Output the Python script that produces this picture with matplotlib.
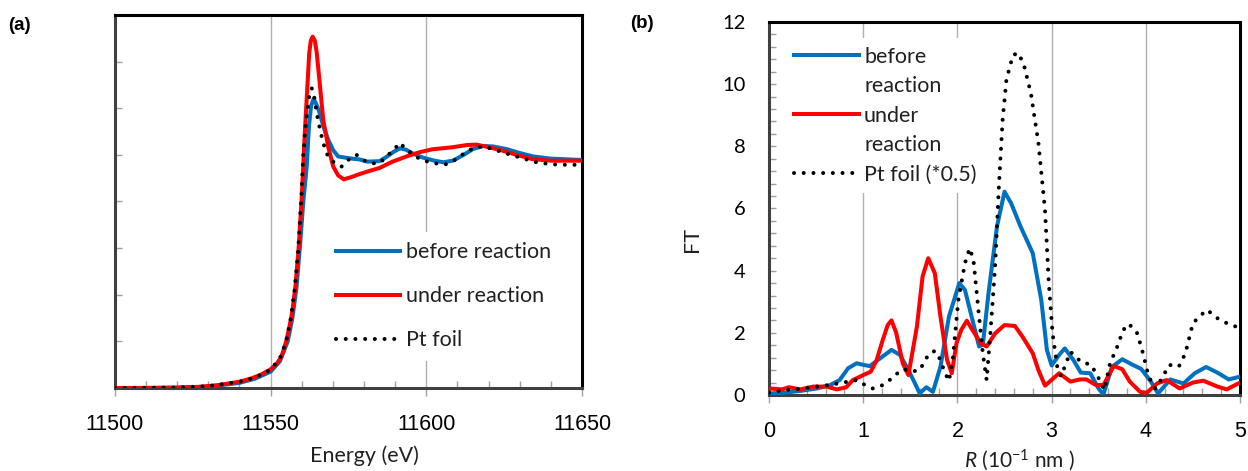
import matplotlib
matplotlib.use('Agg')
import matplotlib.pyplot as plt
from matplotlib.lines import Line2D
from matplotlib.ticker import MultipleLocator

plt.rcParams['font.family'] = ['Lato', 'DejaVu Sans']
plt.rcParams['mathtext.fontset'] = 'custom'
plt.rcParams['mathtext.rm'] = 'Lato'
plt.rcParams['mathtext.it'] = 'Lato:italic'

# ---- (a) XANES: energy (eV) vs normalised absorption ----
e_before = [11500, 11520, 11530, 11540, 11545, 11550, 11553, 11555.5, 11557, 11558.3,
            11559.5, 11560.5, 11561.6, 11562.3, 11563, 11563.8, 11564.6, 11565.5, 11567,
            11568.5, 11570.1, 11571.7, 11575.5, 11578.7, 11581, 11585, 11587.3, 11589.4,
            11591.5, 11593.5, 11595.8, 11599, 11602.3, 11605.5, 11608.7, 11612, 11615,
            11618.3, 11621.5, 11626, 11630, 11634.4, 11640, 11650]
mu_before = [0.0, 0.001, 0.006, 0.022, 0.04, 0.07, 0.115, 0.2, 0.3, 0.43,
             0.62, 0.8, 0.95, 1.12, 1.21, 1.24, 1.22, 1.19, 1.12,
             1.065, 1.02, 0.993, 0.985, 0.98, 0.971, 0.973, 0.992, 1.012,
             1.028, 1.022, 1.005, 0.988, 0.976, 0.968, 0.976, 1.0, 1.025,
             1.038, 1.036, 1.024, 1.008, 0.993, 0.984, 0.978]

e_under = [11500, 11510, 11520, 11527, 11533, 11540, 11544, 11547, 11550, 11552,
           11553.5, 11555, 11556, 11557, 11558, 11559, 11560, 11561, 11561.8, 11562.4,
           11562.9, 11563.5, 11564.2, 11564.8, 11565.9, 11566.9, 11568.5, 11570.1, 11571.7,
           11573.5, 11576, 11578, 11581, 11585, 11589, 11594, 11598, 11602, 11608,
           11613, 11616, 11619, 11624, 11629, 11634, 11640, 11650]
mu_under = [0.0, 0.0, 0.002, 0.005, 0.012, 0.027, 0.042, 0.058, 0.08, 0.105,
            0.135, 0.2, 0.26, 0.33, 0.44, 0.6, 0.82, 1.1, 1.29, 1.436,
            1.49, 1.507, 1.49, 1.44, 1.29, 1.15, 1.035, 0.95, 0.912,
            0.895, 0.905, 0.915, 0.928, 0.944, 0.97, 0.995, 1.012, 1.024, 1.032,
            1.042, 1.044, 1.036, 1.02, 1.0, 0.982, 0.975, 0.975]

e_foil = [11500, 11520, 11530, 11540, 11545, 11550, 11553, 11555, 11556.5, 11557.7,
          11558.8, 11559.8, 11560.5, 11561.4, 11562.6, 11563.2, 11564, 11564.8, 11565.9,
          11566.9, 11568.5, 11570.7, 11572.8, 11575.5, 11577.6, 11579.8, 11581.9, 11585,
          11587.8, 11590, 11591.5, 11593.2, 11595.8, 11598.5, 11602.3, 11606, 11609.5,
          11612.5, 11615.5, 11618.5, 11622, 11626, 11631, 11636, 11642, 11650]
mu_foil = [0.0, 0.002, 0.008, 0.027, 0.045, 0.078, 0.128, 0.2, 0.3, 0.42,
           0.58, 0.8, 1.0, 1.15, 1.27, 1.286, 1.25, 1.178, 1.107,
           1.05, 0.99, 0.964, 0.95, 0.985, 1.0, 0.978, 0.964, 0.964,
           1.0, 1.028, 1.052, 1.028, 1.0, 0.978, 0.965, 0.958, 0.98,
           1.01, 1.032, 1.036, 1.022, 1.005, 0.985, 0.966, 0.958, 0.957]

# ---- (b) EXAFS Fourier transform: R (0.1 nm) vs FT ----
r_before = [0.0, 0.15, 0.33, 0.51, 0.65, 0.75, 0.84, 0.93, 1.0, 1.07, 1.18, 1.3, 1.39,
            1.48, 1.55, 1.6, 1.67, 1.74, 1.82, 1.91, 2.02, 2.08, 2.16, 2.23, 2.27, 2.33,
            2.42, 2.5, 2.57, 2.67, 2.8, 2.89, 2.95, 3.0, 3.08, 3.14, 3.23, 3.31, 3.41,
            3.5, 3.55, 3.64, 3.75, 3.86, 3.95, 4.05, 4.13, 4.26, 4.4, 4.52, 4.64, 4.76,
            4.88, 5.0]
ft_before = [0.05, 0.07, 0.13, 0.21, 0.32, 0.48, 0.86, 1.02, 0.97, 0.93, 1.18, 1.45, 1.29,
             0.8, 0.37, 0.05, 0.25, 0.1, 0.91, 2.52, 3.6, 3.38, 2.41, 1.56, 1.62, 3.27,
             5.42, 6.54, 6.17, 5.42, 4.56, 3.06, 1.45, 0.95, 1.29, 1.5, 1.13, 0.72, 0.7,
             0.2, 0.02, 0.9, 1.15, 0.97, 0.84, 0.45, 0.05, 0.5, 0.37, 0.7, 0.9, 0.72,
             0.5, 0.59]

r_under = [0.0, 0.14, 0.21, 0.33, 0.47, 0.61, 0.72, 0.82, 0.89, 1.0, 1.08, 1.14, 1.2,
           1.26, 1.3, 1.35, 1.42, 1.48, 1.57, 1.63, 1.69, 1.76, 1.82, 1.89, 1.94, 1.99,
           2.04, 2.1, 2.16, 2.25, 2.31, 2.4, 2.5, 2.61, 2.69, 2.8, 2.86, 2.93, 3.08, 3.2,
           3.3, 3.37, 3.47, 3.55, 3.66, 3.75, 3.83, 3.94, 4.01, 4.12, 4.22, 4.36, 4.5,
           4.61, 4.76, 4.86, 5.0]
ft_under = [0.21, 0.18, 0.25, 0.18, 0.27, 0.27, 0.18, 0.25, 0.48, 0.64, 0.75, 1.1, 1.7,
            2.25, 2.4, 2.0, 1.02, 0.64, 2.2, 3.81, 4.4, 3.92, 2.52, 1.13, 0.7, 1.66,
            2.09, 2.39, 2.09, 1.66, 1.56, 1.98, 2.25, 2.22, 1.88, 1.34, 0.8, 0.3, 0.7, 0.43,
            0.5, 0.5, 0.32, 0.32, 0.93, 0.83, 0.43, 0.1, 0.07, 0.37, 0.48, 0.21, 0.4,
            0.46, 0.27, 0.18, 0.4]

r_foil = [0.0, 0.17, 0.28, 0.45, 0.64, 0.84, 0.93, 1.02, 1.1, 1.19, 1.28, 1.35, 1.43,
          1.51, 1.6, 1.69, 1.76, 1.81, 1.87, 1.91, 1.95, 2.01, 2.08, 2.13, 2.17, 2.23,
          2.27, 2.31, 2.35, 2.4, 2.44, 2.48, 2.52, 2.59, 2.65, 2.71, 2.78, 2.86, 2.93,
          2.97, 3.01, 3.06, 3.1, 3.2, 3.31, 3.42, 3.51, 3.56, 3.62, 3.69, 3.76, 3.82,
          3.91, 3.97, 4.03, 4.1, 4.16, 4.25, 4.35, 4.42, 4.5, 4.59, 4.65, 4.76, 4.86, 5.0]
ft_foil = [0.07, 0.16, 0.18, 0.25, 0.32, 0.43, 0.48, 0.32, 0.21, 0.29, 0.48, 0.67, 0.83,
           0.75, 0.8, 1.29, 1.42, 1.18, 0.7, 0.45, 1.13, 3.06, 4.24, 4.72, 4.35, 2.52,
           1.34, 0.48, 1.98, 4.13, 6.7, 8.85, 10.14, 10.94, 11.0, 10.57, 9.71, 8.1, 5.95,
           3.6, 1.98, 0.91, 0.6, 1.39, 1.07, 0.97, 0.48, 0.16, 1.02, 1.5, 2.09, 2.29,
           1.98, 1.34, 0.59, 0.21, 0.48, 0.97, 0.91, 1.34, 2.31, 2.58, 2.74, 2.47, 2.31, 2.15]

BLUE = '#0070C0'
RED = '#FF0000'
GRID = '#b0b0b0'
TICK = '#a0a0a0'
LW = 2.9
DOTS = (0, (0.01, 2.4))


def style_frame(ax):
    for side in ['left', 'bottom']:
        ax.spines[side].set_color('#404040')
        ax.spines[side].set_linewidth(2.2)
    for side in ['top', 'right']:
        ax.spines[side].set_color('black')
        ax.spines[side].set_linewidth(2.2)
    ax.xaxis.grid(True, which='major', color=GRID, lw=1)
    ax.set_axisbelow(True)


fig = plt.figure(figsize=(12.48, 4.71), dpi=100)

# ---------- panel (a) ----------
ax1 = fig.add_axes([0.0921, 0.1762, 0.3742, 0.792])
ax1.plot(e_before, mu_before, color=BLUE, lw=LW, label='before reaction', zorder=3)
ax1.plot(e_under, mu_under, color=RED, lw=LW, label='under reaction', zorder=4)
ax1.plot(e_foil, mu_foil, color='black', lw=LW, linestyle=DOTS,
         dash_capstyle='round', label='Pt foil', zorder=5)
ax1.set_xlim(11500, 11650)
ax1.set_ylim(0, 1.6)
ax1.xaxis.set_major_locator(MultipleLocator(50))
ax1.xaxis.set_minor_locator(MultipleLocator(10))
ax1.yaxis.set_major_locator(MultipleLocator(0.2))
ax1.tick_params(axis='x', which='major', direction='out', length=6, width=1,
                color=TICK, pad=13, labelsize=15.5)
ax1.tick_params(axis='x', which='minor', direction='in', length=5, width=1, color=TICK)
ax1.tick_params(axis='y', which='major', direction='in', length=5, width=1,
                color=TICK, labelleft=False)
for lab in ax1.get_xticklabels():
    lab.set_family('Liberation Sans')
style_frame(ax1)
ax1.set_xlabel('Energy (eV)', fontsize=15.5, color='#202020')
ax1.xaxis.set_label_coords(0.535, -0.155)
leg1 = ax1.legend(loc='upper left', bbox_to_anchor=(0.45, 0.419), fontsize=15.5,
                  frameon=True, fancybox=False, framealpha=1, edgecolor='none',
                  facecolor='white', handlelength=3.0, handletextpad=0.25,
                  labelspacing=1.11, borderpad=0.5, borderaxespad=0)
for t in leg1.get_texts():
    t.set_color('#202020')

# ---------- panel (b) ----------
ax2 = fig.add_axes([0.6162, 0.1614, 0.3774, 0.7919])
ax2.plot(r_before, ft_before, color=BLUE, lw=LW, zorder=3)
ax2.plot(r_under, ft_under, color=RED, lw=LW, zorder=4)
ax2.plot(r_foil, ft_foil, color='black', lw=LW, linestyle=DOTS,
         dash_capstyle='round', zorder=5)
ax2.set_xlim(0, 5)
ax2.set_ylim(0, 12)
ax2.xaxis.set_major_locator(MultipleLocator(1))
ax2.xaxis.set_minor_locator(MultipleLocator(0.2))
ax2.yaxis.set_major_locator(MultipleLocator(2))
ax2.yaxis.set_minor_locator(MultipleLocator(0.4))
ax2.tick_params(axis='x', which='major', direction='out', length=6, width=1,
                color=TICK, pad=13, labelsize=15.5)
ax2.tick_params(axis='x', which='minor', direction='in', length=5, width=1, color=TICK)
ax2.tick_params(axis='y', which='both', direction='in', length=5, width=1,
                color=TICK, pad=17, labelsize=14.5)
for lab in ax2.get_xticklabels():
    lab.set_family('Liberation Sans')
style_frame(ax2)
ax2.set_xlabel('$R$ (10$^{-1}$ nm )', fontsize=15, color='#202020')
ax2.xaxis.set_label_coords(0.533, -0.14)
ax2.set_ylabel('FT', fontsize=15.5, color='#202020')
ax2.yaxis.set_label_coords(-0.142, 0.416)

blank = Line2D([], [], linestyle='none')
handles2 = [Line2D([], [], color=BLUE, lw=LW), blank,
            Line2D([], [], color=RED, lw=LW), blank,
            Line2D([], [], color='black', lw=LW, linestyle=DOTS, dash_capstyle='round')]
labels2 = ['before', 'reaction', 'under', 'reaction', 'Pt foil (*0.5)']
leg2 = ax2.legend(handles2, labels2, loc='upper left', bbox_to_anchor=(0.035, 0.957),
                  fontsize=15.5, frameon=True, fancybox=False, framealpha=1,
                  edgecolor='none', facecolor='white', handlelength=3.0,
                  handletextpad=0.25, labelspacing=0.44, borderpad=0.4, borderaxespad=0)
for t in leg2.get_texts():
    t.set_color('#202020')

fig.text(8 / 1248, 1 - 25 / 471, '(a)', fontsize=13.5, fontweight='bold',
         family='Liberation Sans', va='center', ha='left')
fig.text(630 / 1248, 1 - 24 / 471, '(b)', fontsize=13.5, fontweight='bold',
         family='Liberation Sans', va='center', ha='left')

fig.savefig('out.png', dpi=100)
